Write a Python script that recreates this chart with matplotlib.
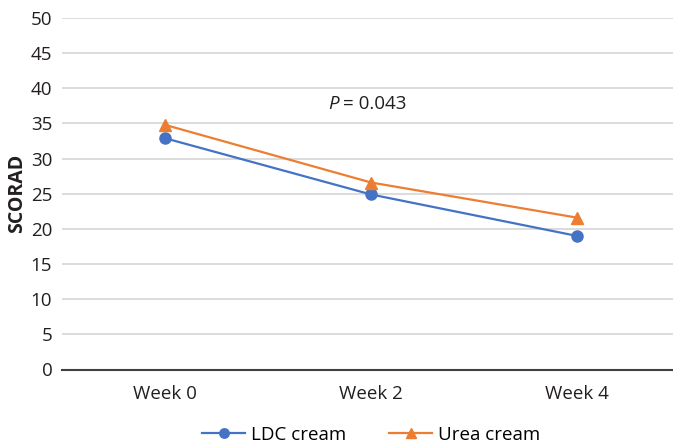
import matplotlib.pyplot as plt

plt.rcParams['font.family'] = ['Open Sans', 'DejaVu Sans']

weeks = ['Week 0', 'Week 2', 'Week 4']
ldc = [32.9, 24.9, 19.0]
urea = [34.8, 26.6, 21.6]

fig = plt.figure(figsize=(6.73, 4.47), dpi=100)
# plot area: x 62..680 px, y 18..369.5 px
ax = fig.add_axes([62 / 673, (447 - 369.5) / 447, 618 / 673, 351.5 / 447])

x = range(len(weeks))
ax.plot(x, ldc, color='#4472C4', marker='o', markersize=8, linewidth=1.6, label='LDC cream')
ax.plot(x, urea, color='#ED7D31', marker='^', markersize=9, linewidth=1.6, label='Urea cream')

ax.set_xlim(-0.5, 2.5)
ax.set_ylim(0, 50)
ax.set_yticks(range(0, 51, 5))
ax.set_xticks(list(x))
ax.set_xticklabels(weeks)
ax.grid(axis='y', color='#d9d9d9', linewidth=1.3)
ax.set_axisbelow(True)
for s in ['top', 'right', 'left']:
    ax.spines[s].set_visible(False)
ax.spines['bottom'].set_color('#404040')
ax.spines['bottom'].set_linewidth(1.5)
ax.tick_params(axis='both', length=0, labelsize=13.5, colors='#231f20', pad=7)
ax.tick_params(axis='x', pad=11)
ax.set_ylabel('SCORAD', fontsize=14, fontweight='bold', color='#231f20', labelpad=3)

ax.text(0.79, 37.8, 'P', fontsize=13.5, style='italic', ha='left', va='center', color='#231f20')
ax.text(0.865, 37.8, '= 0.043', fontsize=13.5, ha='left', va='center', color='#231f20')

ax.legend(loc='center', bbox_to_anchor=(0.5, -0.185), ncol=2, frameon=False,
          fontsize=13.5, columnspacing=2.3, handlelength=2.3, handletextpad=0.3,
          markerscale=0.85)

fig.savefig('out.png', dpi=100)
